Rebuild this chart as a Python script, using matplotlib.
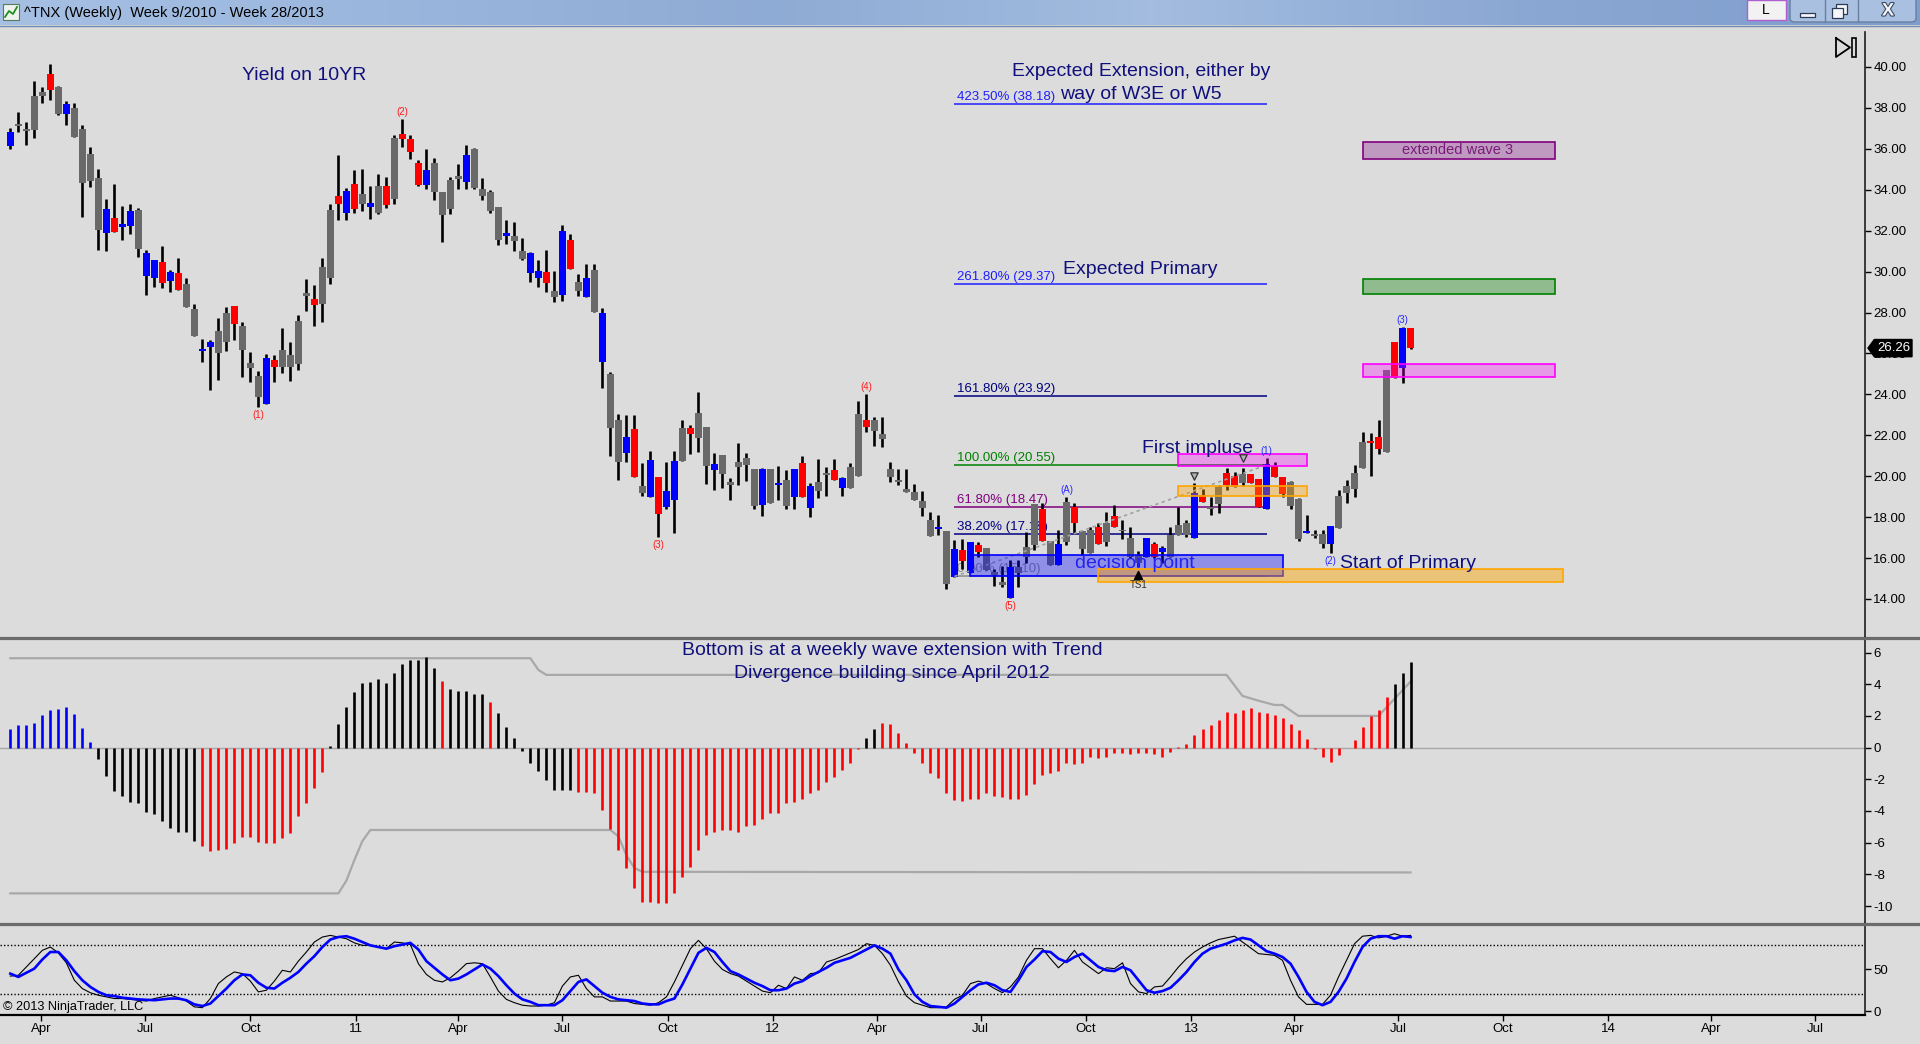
import numpy as np
import pandas as pd
import matplotlib
matplotlib.use("Agg")
import matplotlib.pyplot as plt
import matplotlib.dates as mdates
import matplotlib.patheffects as pe
from matplotlib.colors import LinearSegmentedColormap, to_rgba
from matplotlib.lines import Line2D
from matplotlib.patches import Rectangle, Polygon, FancyBboxPatch
from matplotlib.ticker import FormatStrFormatter
from matplotlib.transforms import blended_transform_factory

plt.rcParams['font.family'] = ['Liberation Sans', 'DejaVu Sans']
plt.rcParams['axes.unicode_minus'] = False

# weekly bars, week 9/2010 .. week 28/2013
dates = pd.date_range('2010-03-05', periods=176, freq='7D')

body_top = [
    36.84, 37.2, 36.97, 38.58, 38.78, 39.66, 39.02, 38.19, 38.0, 36.97,
    35.75, 34.58, 33.05, 32.62, 32.34, 32.96, 33.01, 30.91, 30.59, 30.49,
    30.0, 29.93, 29.4, 28.18, 26.22, 26.56, 27.1, 27.98, 28.32, 27.35,
    25.52, 24.9, 25.78, 25.68, 26.17, 25.94, 27.59, 28.96, 28.68, 30.23,
    33.01, 33.71, 33.94, 34.28, 33.79, 33.35, 34.18, 34.18, 36.53, 36.74,
    36.48, 35.31, 34.97, 35.31, 33.89, 34.49, 34.67, 35.7, 35.99, 34.05,
    33.89, 33.16, 31.89, 31.74, 31.0, 30.93, 30.03, 29.98, 29.05, 32.0,
    31.54, 29.49, 29.69, 30.08, 27.98, 25.0, 22.75, 21.92, 22.31, 19.52,
    20.81, 19.96, 19.28, 20.74, 22.36, 22.36, 23.09, 22.4, 20.6, 21.04,
    19.73, 20.7, 20.89, 20.37, 20.37, 20.35, 19.67, 19.81, 20.37, 20.63,
    19.54, 19.72, 20.16, 20.32, 19.91, 20.45, 23.04, 22.75, 22.75, 22.05,
    20.37, 19.78, 19.37, 19.23, 18.79, 17.84, 17.52, 17.3, 16.43, 16.38,
    16.78, 16.64, 16.47, 15.33, 14.83, 15.58, 15.58, 16.56, 18.64, 18.4,
    16.85, 16.69, 18.74, 18.51, 17.34, 17.37, 17.53, 17.73, 18.07, 17.37,
    16.99, 16.15, 16.98, 16.68, 16.49, 17.12, 17.61, 17.7, 19.16, 19.08,
    18.51, 19.49, 20.14, 20.02, 20.11, 20.11, 19.86, 20.58, 20.5, 19.94,
    19.71, 18.87, 17.29, 17.12, 17.17, 17.56, 19.03, 19.52, 20.17, 21.69,
    21.7, 21.93, 25.19, 26.57, 27.23, 27.23]

body_bottom = [
    36.14, 37.1, 36.87, 36.9, 38.58, 38.86, 37.69, 37.72, 36.6, 34.31,
    34.41, 32.02, 31.87, 31.95, 32.17, 32.25, 31.12, 29.8, 29.71, 29.43,
    29.52, 29.09, 28.26, 26.87, 26.14, 26.29, 26.01, 26.55, 27.46, 26.16,
    25.28, 23.86, 23.55, 25.33, 25.33, 25.36, 25.47, 28.79, 28.39, 28.4,
    29.67, 33.29, 32.88, 33.05, 33.31, 33.14, 32.88, 33.27, 33.57, 36.47,
    35.86, 34.23, 34.25, 33.91, 32.78, 33.08, 34.51, 34.4, 34.09, 33.7,
    32.98, 31.56, 31.76, 31.51, 30.63, 29.95, 29.7, 29.46, 28.74, 28.84,
    30.14, 29.07, 28.78, 28.04, 25.6, 22.37, 20.71, 21.15, 19.98, 19.16,
    19.0, 18.14, 18.51, 18.85, 20.76, 22.05, 21.85, 20.52, 20.32, 20.13,
    19.59, 20.45, 20.56, 18.54, 18.61, 18.67, 19.55, 18.54, 19.0, 19.0,
    18.46, 19.26, 20.06, 19.8, 19.41, 19.41, 20.01, 22.39, 22.21, 21.8,
    19.98, 19.72, 19.24, 18.84, 18.43, 17.06, 17.4, 14.75, 15.06, 15.84,
    15.28, 16.28, 15.42, 15.19, 14.68, 14.06, 15.25, 16.07, 16.65, 16.82,
    15.66, 15.68, 16.8, 17.7, 16.43, 16.23, 16.69, 16.8, 17.53, 17.3,
    16.07, 15.74, 16.07, 16.07, 16.31, 16.07, 17.11, 17.11, 16.98, 18.75,
    18.38, 18.64, 19.57, 19.49, 19.68, 19.68, 18.51, 18.41, 19.98, 19.13,
    18.54, 16.95, 17.24, 17.08, 16.68, 16.67, 17.45, 19.16, 19.39, 20.42,
    21.64, 21.31, 21.2, 24.78, 25.27, 26.28]

bar_high = [
    37.0, 37.8, 37.31, 39.3, 39.02, 40.15, 39.09, 38.34, 38.24, 37.15,
    36.09, 35.02, 33.55, 34.28, 33.21, 33.29, 33.09, 31.04, 30.59, 31.25,
    30.08, 30.67, 29.67, 28.42, 26.71, 26.68, 27.74, 28.27, 28.32, 27.54,
    26.06, 25.15, 25.98, 25.93, 27.25, 26.56, 27.88, 29.64, 29.35, 30.67,
    33.31, 35.7, 34.1, 34.97, 35.02, 34.18, 34.77, 34.6, 36.68, 37.46,
    36.68, 35.45, 35.99, 35.54, 33.89, 34.6, 35.26, 36.19, 36.04, 34.57,
    33.99, 33.16, 32.52, 32.43, 31.64, 30.97, 30.57, 31.06, 30.03, 32.29,
    31.84, 29.88, 30.37, 30.37, 28.2, 25.1, 23.04, 22.99, 22.99, 20.65,
    21.23, 19.96, 20.7, 21.23, 22.75, 22.5, 24.12, 22.4, 21.13, 21.04,
    19.93, 21.62, 21.12, 20.37, 20.4, 20.35, 20.48, 20.3, 20.37, 20.99,
    19.65, 20.84, 20.45, 20.84, 19.98, 20.64, 23.67, 24.02, 22.89, 22.89,
    20.69, 20.37, 20.37, 19.63, 19.26, 18.25, 18.09, 17.3, 16.88, 16.93,
    16.78, 16.78, 16.47, 15.45, 15.61, 15.9, 15.9, 17.29, 18.64, 18.67,
    16.85, 17.37, 19.0, 18.67, 17.34, 17.53, 17.7, 18.27, 18.59, 17.86,
    17.5, 16.36, 16.98, 16.8, 16.59, 17.5, 18.51, 17.86, 19.68, 19.36,
    19.0, 19.57, 20.38, 20.22, 20.4, 20.11, 19.86, 20.87, 20.71, 19.94,
    19.76, 18.92, 18.1, 17.37, 17.37, 17.56, 19.32, 19.81, 20.55, 22.17,
    22.09, 22.74, 25.19, 26.57, 27.31, 27.23]

bar_low = [
    35.98, 36.84, 36.2, 36.55, 38.22, 38.4, 37.64, 37.18, 36.6, 32.69,
    34.15, 31.06, 31.03, 31.95, 31.55, 31.86, 30.73, 28.87, 29.27, 29.2,
    29.0, 29.09, 28.26, 26.87, 25.57, 24.23, 24.71, 26.14, 26.68, 24.87,
    24.58, 23.4, 23.55, 24.62, 25.03, 24.67, 25.21, 28.09, 27.36, 27.55,
    29.41, 32.52, 32.52, 32.88, 32.96, 32.59, 32.82, 33.13, 33.32, 36.11,
    35.5, 34.2, 34.05, 33.5, 31.46, 32.82, 34.04, 34.04, 34.05, 33.5,
    32.88, 31.32, 31.35, 31.02, 30.57, 29.51, 29.27, 28.99, 28.53, 28.58,
    30.14, 28.83, 28.78, 28.04, 24.33, 21.0, 19.83, 20.71, 19.98, 19.05,
    19.0, 17.05, 18.4, 17.24, 20.76, 21.1, 21.2, 19.64, 19.34, 19.44,
    18.85, 19.59, 19.78, 18.38, 18.07, 18.67, 18.84, 18.41, 18.41, 19.0,
    18.02, 18.95, 19.05, 19.8, 19.05, 19.41, 20.01, 22.18, 21.49, 21.44,
    19.73, 19.59, 19.21, 18.84, 18.05, 17.06, 17.14, 14.47, 15.06, 15.45,
    15.28, 16.07, 15.42, 14.63, 14.6, 14.06, 14.6, 15.74, 16.39, 16.82,
    15.66, 15.68, 16.64, 17.21, 16.15, 16.23, 16.69, 16.59, 17.53, 16.95,
    15.98, 15.58, 16.07, 16.0, 15.74, 16.07, 17.11, 17.01, 16.98, 18.75,
    18.1, 18.18, 19.32, 19.45, 19.52, 19.68, 18.51, 18.41, 19.98, 19.0,
    18.38, 16.85, 17.24, 16.96, 16.47, 16.23, 17.45, 18.67, 18.97, 20.42,
    20.01, 21.08, 21.2, 24.78, 24.57, 26.22]

# b = blue, r = red, g = grey body
candle_colour = ("bggggrgbgg" "ggbrbbgbbr" "brggbbggrg" "ggbrggggrg"
                 "grbrgbgrgr" "rrbggggbgg" "ggbggbbrgb" "rgbgbggbrg"
                 "brbbgrggbg" "ggggbgbgbr" "bggrbggrgg" "ggggggbgbr"
                 "brgggbgggr" "gbgrggrgrg" "ggbrbgggbr" "ggrrgrrbrr"
                 "ggbggbgggg" "rrgrbr")

osc_value = [
    1.17, 1.44, 1.44, 1.53, 2.04, 2.37, 2.42, 2.54, 2.10, 1.22,
    0.33, -0.74, -1.80, -2.72, -3.04, -3.46, -3.52, -4.05, -4.21, -4.62,
    -5.06, -5.31, -5.35, -5.88, -6.22, -6.54, -6.47, -6.37, -5.99, -5.67,
    -5.67, -5.94, -5.99, -6.05, -5.73, -5.37, -4.32, -3.48, -2.57, -1.52,
    0.12, 1.47, 2.54, 3.49, 4.10, 4.16, 4.31, 4.10, 4.69, 5.28,
    5.53, 5.53, 5.70, 5.00, 4.21, 3.72, 3.59, 3.57, 3.38, 3.38,
    2.88, 2.16, 1.27, 0.58, -0.19, -1.00, -1.46, -2.05, -2.68, -2.68,
    -2.68, -2.81, -2.83, -2.89, -3.94, -5.16, -6.47, -7.63, -8.89, -9.73,
    -9.73, -9.83, -9.79, -9.20, -8.15, -7.56, -6.47, -5.52, -5.31, -5.21,
    -5.21, -5.35, -4.95, -4.89, -4.53, -4.15, -4.11, -3.52, -3.44, -3.27,
    -2.89, -2.68, -2.15, -1.84, -1.41, -0.95, -0.07, 0.59, 1.17, 1.53,
    1.47, 0.90, 0.27, -0.36, -1.00, -1.59, -1.94, -2.86, -3.31, -3.36,
    -3.27, -3.27, -2.89, -3.06, -3.14, -3.27, -3.27, -3.00, -2.32, -1.73,
    -1.59, -1.46, -1.00, -1.05, -1.00, -0.57, -0.68, -0.61, -0.36, -0.36,
    -0.40, -0.32, -0.36, -0.40, -0.61, -0.25, 0.06, 0.23, 0.80, 1.17,
    1.44, 1.74, 2.25, 2.16, 2.37, 2.48, 2.27, 2.16, 2.06, 1.85,
    1.47, 1.11, 0.52, -0.11, -0.61, -0.89, -0.49, -0.04, 0.48, 1.32,
    2.00, 2.37, 3.22, 4.01, 4.73, 5.38]

# colour runs of the histogram (b blue, k black, r red)
osc_colour_runs = [('b', 11), ('k', 13), ('r', 16), ('k', 14), ('r', 1),
                   ('k', 5), ('r', 1), ('k', 10), ('r', 36), ('k', 2),
                   ('r', 64), ('k', 3)]

band_hi_bar = [0, 65, 66, 67, 152, 154, 156, 158, 159, 161, 171, 175]
band_hi_val = [5.64, 5.64, 4.9, 4.59, 4.59, 3.26, 2.96, 2.69, 2.69, 2.0, 2.0, 4.16]
band_lo_bar = [0, 41, 42, 43, 44, 45, 75, 76, 77, 78, 79, 175]
band_lo_val = [-9.2, -9.2, -8.4, -7.1, -5.9, -5.2, -5.2, -5.6, -6.8, -7.6, -7.84, -7.88]

stoch_d = [
    45, 41, 46, 51, 62, 71, 71, 61, 48, 37,
    29, 23, 19, 18, 16, 15, 14, 13.5, 13, 14,
    15, 15, 13, 8, 6, 9, 18, 27, 37, 44,
    43, 34, 28, 27, 34, 40, 47, 57, 66, 77,
    86, 89, 90, 87, 83, 79, 77, 75, 78, 80,
    82, 74, 60, 52, 44, 37, 39, 44, 50, 56,
    51, 42, 31, 21, 14, 11, 7, 7, 7, 13,
    24, 35, 38, 30, 22, 17, 14, 13, 12, 9,
    8, 8, 12, 15, 32, 51, 70, 76, 71, 59,
    48, 44, 39, 34, 30, 25, 25, 27, 33, 36,
    42, 47, 52, 58, 61, 64, 69, 74, 79, 75,
    69, 50, 37, 20, 11, 6, 5, 4, 9, 17,
    25, 32, 34, 31, 25, 23, 37, 53, 62, 72,
    71, 63, 59, 65, 69, 61, 53, 49, 48, 53,
    49, 37, 25, 22, 24, 28, 37, 47, 59, 69,
    75, 78, 81, 85, 88, 86, 79, 72, 69, 65,
    57, 41, 23, 11, 7, 11, 23, 39, 59, 77,
    87, 90, 90, 87, 90, 89]

stoch_k = [
    42, 43, 53, 63, 73, 77, 70, 58, 37, 27,
    22, 19, 17, 15, 15, 14, 13, 12, 15, 17,
    19, 16, 12, 5, 4, 15, 33, 41, 47, 45,
    36, 23, 25, 36, 49, 47, 60, 71, 83, 89,
    91, 89, 87, 82, 79, 79, 77, 75, 83, 82,
    80, 57, 44, 37, 35, 40, 48, 57, 58, 57,
    41, 24, 14, 10, 7, 6, 6, 7, 10, 30,
    41, 43, 27, 17, 17, 12, 12, 12, 9, 8,
    7, 10, 17, 35, 55, 75, 85, 75, 60, 50,
    45, 42, 36, 30, 24, 22, 31, 27, 41, 37,
    45, 46, 59, 62, 66, 70, 74, 81, 79, 69,
    55, 35, 18, 10, 7, 4, 4, 5, 14, 19,
    33, 36, 33, 27, 22, 29, 41, 61, 75, 75,
    63, 52, 61, 73, 59, 52, 45, 52, 51, 58,
    33, 23, 21, 29, 30, 41, 53, 63, 71, 77,
    82, 86, 88, 90, 83, 76, 69, 68, 67, 61,
    37, 17, 8, 8, 8, 19, 41, 61, 81, 90,
    91, 88, 90, 93, 90, 91]

# Fibonacci extension drawn from bar 118 to bar 157
fib_label = ['0.00%', '38.20%', '61.80%', '100.00%', '161.80%', '261.80%', '423.50%']
fib_price = [15.10, 17.18, 18.47, 20.55, 23.92, 29.37, 38.18]
fib_colour = ['#8c8c8c', '#000080', '#800080', '#008000', '#000080', '#1e1eff', '#1e1eff']
fib_start_bar, fib_end_bar = 118, 157

# drawn rectangles: start bar, end bar, bottom price, top price, colour, opacity
box_start = [169, 169, 169, 146, 146, 120, 136]
box_end = [193, 193, 193, 162, 162, 159, 194]
box_bottom = [35.50, 28.90, 24.85, 20.50, 19.03, 15.12, 14.83]
box_top = [36.33, 29.64, 25.48, 21.09, 19.52, 16.15, 15.46]
box_colour = ['#800080', '#008000', '#ff00ff', '#ff00ff', '#ffa500', '#0000ff', '#ffa500']
box_alpha = [0.3, 0.35, 0.3, 0.3, 0.35, 0.35, 0.45]

wave_text = ['(1)', '(2)', '(3)', '(4)', '(5)', '(A)', '(1)', '(2)', '(3)']
wave_bar = [31, 49, 81, 107, 125, 132, 157, 165, 174]
wave_side = ['low', 'high', 'low', 'high', 'low', 'high', 'high', 'low', 'high']
wave_colour = ['#ff1a1a'] * 5 + ['#2a2aff'] * 4

signal_bar = [148, 154]
signal_price = [19.99, 20.87]
ts1_bar, ts1_price = 141, 15.17
last_price = 26.26

# ---- figure ----
W, H = 1920, 1044
BG = '#dcdcdc'
NAVY = '#10107c'

fig = plt.figure(figsize=(W / 100, H / 100), dpi=100, facecolor=BG)


def frame(x0, y0, x1, y1):
    return [x0 / W, 1 - y1 / H, (x1 - x0) / W, (y1 - y0) / H]


def ptext(x, y, s, **kw):
    return fig.text(x / W, 1 - y / H, s, **kw)


def pline(xs, ys, **kw):
    fig.add_artist(Line2D([v / W for v in xs], [1 - v / H for v in ys],
                          transform=fig.transFigure, **kw))


def prect(x0, y0, x1, y1, **kw):
    fig.add_artist(Rectangle((x0 / W, 1 - y1 / H), (x1 - x0) / W, (y1 - y0) / H,
                             transform=fig.transFigure, **kw))


x = mdates.date2num(dates)
x0 = x[0]


def bx(i):
    return x0 + 7 * np.asarray(i, dtype=float)


xlim = (bx(-1.29), bx(231.8))

ax_p = fig.add_axes(frame(0, 32, 1865, 637))
ax_o = fig.add_axes(frame(0, 637, 1865, 923))
ax_s = fig.add_axes(frame(0, 923, 1865, 1015))

for ax in (ax_p, ax_o, ax_s):
    ax.set_facecolor(BG)
    for s in ('top', 'left', 'bottom'):
        ax.spines[s].set_visible(False)
    ax.spines['right'].set_color('#202020')
    ax.spines['right'].set_linewidth(1.2)
    ax.yaxis.tick_right()
    ax.tick_params(axis='y', direction='out', length=4, width=1,
                   colors='black', labelsize=9.5, pad=2)
    ax.tick_params(axis='x', bottom=False, labelbottom=False)
    ax.set_xlim(*xlim)

# ---- price panel ----
ax_p.set_ylim(12.14, 41.71)
ax_p.set_yticks(np.arange(14, 41, 2))
ax_p.yaxis.set_major_formatter(FormatStrFormatter('%.2f'))

cmap_c = {'b': '#0000ff', 'r': '#ff0000', 'g': '#696969'}
ax_p.vlines(x, bar_low, bar_high, colors='black', lw=1.9, zorder=2)
heights = np.maximum(np.array(body_top) - np.array(body_bottom), 0.07)
ax_p.bar(x, heights, bottom=body_bottom, width=5.6,
         color=[cmap_c[c] for c in candle_colour], linewidth=0, zorder=3)

# fibonacci levels
for lab, lev, col in zip(fib_label, fib_price, fib_colour):
    ax_p.hlines(lev, bx(fib_start_bar), bx(fib_end_bar), colors=col, lw=1.1, zorder=1.5)
    ax_p.annotate(f'{lab} ({lev:.2f})', (bx(fib_start_bar), lev), xytext=(2.5, 4),
                  textcoords='offset pixels', fontsize=9.5, color=col,
                  va='baseline', ha='left', zorder=1.6)
ax_p.plot([bx(fib_start_bar), bx(fib_end_bar)], [fib_price[0], fib_price[3]],
          color='#a0a0a0', lw=1.2, ls=(0, (2, 2)), zorder=3.5)

# rectangles
for s0, s1, b0, b1, col, a in zip(box_start, box_end, box_bottom, box_top,
                                  box_colour, box_alpha):
    ax_p.add_patch(Rectangle((bx(s0), b0), bx(s1) - bx(s0), b1 - b0,
                             facecolor=to_rgba(col, a), edgecolor=col,
                             lw=1.2, zorder=4))

# wave labels
for t, b, side, col in zip(wave_text, wave_bar, wave_side, wave_colour):
    if side == 'high':
        ax_p.annotate(t, (x[b], bar_high[b]), xytext=(0, 2), textcoords='offset pixels',
                      ha='center', va='bottom', fontsize=7, color=col, zorder=5)
    else:
        ax_p.annotate(t, (x[b], bar_low[b]), xytext=(0, -3), textcoords='offset pixels',
                      ha='center', va='top', fontsize=7, color=col, zorder=5)

ax_p.scatter(x[signal_bar], signal_price, marker='v', s=28, facecolor='#b4b4b4',
             edgecolor='#303030', lw=0.9, zorder=5)
ax_p.scatter([x[ts1_bar]], [ts1_price], marker='^', s=34, color='black', zorder=5)
ax_p.annotate('TS1', (x[ts1_bar], ts1_price), xytext=(0, -5), textcoords='offset pixels',
              ha='center', va='top', fontsize=7, color='#303030', zorder=5)

# last price marker on the axis (it sits over the 26.00 tick label)
tr = blended_transform_factory(ax_p.transAxes, ax_p.transData)
ax_p.add_patch(Polygon([(1.0016, last_price), (1.0050, last_price + 0.42),
                        (1.0252, last_price + 0.42), (1.0252, last_price - 0.42),
                        (1.0050, last_price - 0.42)], closed=True,
                       transform=tr, facecolor='black', edgecolor='black',
                       clip_on=False, zorder=6))
ax_p.text(1.0155, last_price, f'{last_price:.2f}', transform=tr, color='white',
          fontsize=9.5, ha='center', va='center', clip_on=False, zorder=7)

# ---- oscillator panel ----
ax_o.set_ylim(-11.07, 6.98)
ax_o.set_yticks(np.arange(-10, 7, 2))
ax_o.axhline(0, color='#a8a8a8', lw=1, zorder=1)
cmap_o = {'b': '#0000ff', 'k': '#000000', 'r': '#ff0000'}
osc_colour = [cmap_o[c] for c, n in osc_colour_runs for _ in range(n)]
ax_o.vlines(x, 0, osc_value, colors=osc_colour, lw=1.9, zorder=3)
ax_o.plot(x[band_hi_bar], band_hi_val, color='#a8a8a8', lw=1.6, zorder=2)
ax_o.plot(x[band_lo_bar], band_lo_val, color='#a8a8a8', lw=1.6, zorder=2)

# ---- stochastic panel ----
ax_s.set_ylim(-4.8, 105.9)
ax_s.set_yticks([0, 50])
ax_s.axhline(80, color='black', lw=1, ls=(0, (1, 1.5)))
ax_s.axhline(20, color='black', lw=1, ls=(0, (1, 1.5)))
ax_s.plot(x, stoch_k, color='black', lw=0.8, zorder=3)
ax_s.plot(x, stoch_d, color='#0000ff', lw=1.9, zorder=4)
ax_s.spines['bottom'].set_visible(True)
ax_s.spines['bottom'].set_color('black')
ax_s.spines['bottom'].set_linewidth(1.6)
qs = pd.date_range('2010-04-01', '2014-07-01', freq='QS')
ax_s.set_xticks(mdates.date2num(qs))
ax_s.set_xticklabels([d.strftime('%y') if d.month == 1 else d.strftime('%b') for d in qs])
ax_s.tick_params(axis='x', bottom=True, labelbottom=True, direction='out',
                 length=4, width=1, labelsize=9.5, pad=2)
ax_s.set_xlim(*xlim)

# panel separators
pline([0, W], [637.5, 637.5], color='#6b6b6b', lw=2.3)
pline([0, W], [923.5, 923.5], color='#6b6b6b', lw=2.3)

# ---- annotation texts ----
big = dict(fontsize=14, color=NAVY, va='baseline')
ptext(304, 80, 'Yield on 10YR', ha='center', **big)
ptext(1141, 76, 'Expected Extension, either by', ha='center', **big)
ptext(1141, 99, 'way of W3E or W5', ha='center', **big)
ptext(1140, 274, 'Expected Primary', ha='center', **big)
ptext(1197, 453, 'First impluse', ha='center', **big)
ptext(1075, 568, 'decision point', ha='left', fontsize=14, color='#2323f0', va='baseline')
ptext(1340, 568, 'Start of Primary', ha='left', **big)
ptext(892, 655, 'Bottom is at a weekly wave extension with Trend', ha='center', **big)
ptext(892, 678, 'Divergence building since April 2012', ha='center', **big)
ptext(1458, 154, 'extended wave 3', ha='center', va='baseline', fontsize=10.5, color='#7a1a7a')
ptext(3, 1010, '\u00a9 2013 NinjaTrader, LLC', ha='left', va='baseline', fontsize=9.2, color='black')

# ---- window title bar ----
ax_t = fig.add_axes([0, 1 - 25 / H, 1, 25 / H])
ax_t.axis('off')
tb_cmap = LinearSegmentedColormap.from_list(
    'tb', ['#a6c0e4', '#9bb6dd', '#8eabd5', '#a3bcdf', '#8aa7d3', '#7f9dcc'])
ax_t.imshow(np.linspace(0, 1, 512)[None, :], aspect='auto', cmap=tb_cmap,
            extent=[0, 1, 0, 1])
ax_t.set_xlim(0, 1)
ax_t.set_ylim(0, 1)
pline([0, W], [25.5, 25.5], color='#6f8cb5', lw=1)
ptext(24, 13, '^TNX (Weekly)  Week 9/2010 - Week 28/2013', fontsize=10.5,
      ha='left', va='center', color='black')
prect(3, 4, 19, 20, facecolor='#eef3ee', edgecolor='#5a7a5a', lw=0.8)
pline([5, 9, 13, 17], [17, 11, 14, 7], color='#1f8f1f', lw=1.3)

# window buttons
prect(1747, 0, 1786, 20, facecolor='#f2f2f2', edgecolor='#b05fd0', lw=1)
ptext(1766, 10, 'L', fontsize=10, ha='center', va='center', color='black')
fig.add_artist(FancyBboxPatch((1790 / W, 1 - 22 / H), 126 / W, 24 / H,
                              boxstyle='round,pad=0,rounding_size=0.003',
                              transform=fig.transFigure, facecolor='#a9c0e0',
                              edgecolor='#6a7fa0', lw=1))
pline([1825, 1825], [0, 22], color='#6a7fa0', lw=1)
pline([1858, 1858], [0, 22], color='#6a7fa0', lw=1)
prect(1800, 13, 1815, 17, facecolor='#f4f6fa', edgecolor='#2a3a55', lw=0.9)
prect(1836, 4, 1847, 14, facecolor='#f4f6fa', edgecolor='#2a3a55', lw=0.9)
prect(1832, 8, 1843, 18, facecolor='#f4f6fa', edgecolor='#2a3a55', lw=0.9)
ptext(1888, 11, 'X', fontsize=13, fontweight='bold', ha='center', va='center',
      color='#f6f6f6', path_effects=[pe.withStroke(linewidth=1.6, foreground='#3a4a65')])

# "go to last bar" icon
pline([1836, 1836, 1850, 1836], [38, 57, 47.5, 38], color='black', lw=1.3)
prect(1852, 38, 1856, 57, facecolor='none', edgecolor='black', lw=1.2)

fig.savefig('out.png', dpi=100, facecolor=BG)
